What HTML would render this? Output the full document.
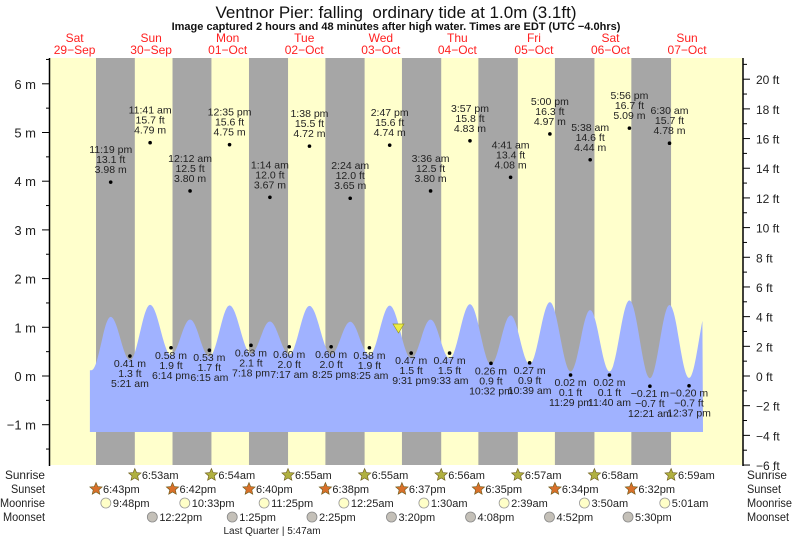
<!DOCTYPE html>
<html><head><meta charset="utf-8"><style>
body{margin:0;background:#fff;}
svg text{font-family:"Liberation Sans",sans-serif;}
</style></head><body>
<svg id="s" width="793" height="539" xmlns="http://www.w3.org/2000/svg"></svg>
<script>
const s=document.getElementById('s');
let h='';
const X=t=>36.3+3.19*t;
const Ym=m=>376-48.7*m;
const Yf=f=>376-14.84*f;
function T(x,y,str,o){o=o||{};h+=`<text x="${x}" y="${y}" font-size="${o.fs||11}" fill="${o.c||'#222'}" text-anchor="${o.a||'middle'}" ${o.b?'font-weight="bold"':''} ${o.tl?'textLength="'+o.tl+'" lengthAdjust="spacingAndGlyphs"':''}>${str}</text>`;}
h+=`<rect x="50" y="58" width="693" height="407" fill="#ffffcc"/>`;
const sunset=[18.72,18.7,18.67,18.63,18.62,18.58,18.57,18.53];
const sunrise=[6.883,6.9,6.917,6.917,6.933,6.95,6.967,6.983];
const hm=s=>{let [a,b]=s.split(':');return +a+ +b/60};
for(let d=0;d<8;d++){let x1=X(d*24+sunset[d]),x2=Math.min(743,X((d+1)*24+sunrise[d]));h+=`<rect x="${x1}" y="58" width="${x2-x1}" height="407" fill="#a6a6a6"/>`;}
const ex=[[23.32,3.98,1],[29.35,.41,0],[35.68,4.79,1],[42.23,.58,0],[48.2,3.80,1],[54.25,.53,0],[60.58,4.75,1],[67.3,.63,0],[73.23,3.67,1],[79.28,.60,0],[85.63,4.72,1],[92.42,.60,0],[98.4,3.65,1],[104.42,.58,0],[110.78,4.74,1],[117.52,.47,0],[123.6,3.80,1],[129.55,.47,0],[135.95,4.83,1],[142.53,.26,0],[148.68,4.08,1],[154.65,.27,0],[161.0,4.97,1],[167.48,.02,0],[173.63,4.44,1],[179.67,.02,0],[185.93,5.09,1],[192.35,-.21,0],[198.5,4.78,1],[204.62,-.20,0]];
const lab=[["11:19 pm","13.1 ft","3.98 m"],["0.41 m","1.3 ft","5:21 am"],["11:41 am","15.7 ft","4.79 m"],["0.58 m","1.9 ft","6:14 pm"],["12:12 am","12.5 ft","3.80 m"],["0.53 m","1.7 ft","6:15 am"],["12:35 pm","15.6 ft","4.75 m"],["0.63 m","2.1 ft","7:18 pm"],["1:14 am","12.0 ft","3.67 m"],["0.60 m","2.0 ft","7:17 am"],["1:38 pm","15.5 ft","4.72 m"],["0.60 m","2.0 ft","8:25 pm"],["2:24 am","12.0 ft","3.65 m"],["0.58 m","1.9 ft","8:25 am"],["2:47 pm","15.6 ft","4.74 m"],["0.47 m","1.5 ft","9:31 pm"],["3:36 am","12.5 ft","3.80 m"],["0.47 m","1.5 ft","9:33 am"],["3:57 pm","15.8 ft","4.83 m"],["0.26 m","0.9 ft","10:32 pm"],["4:41 am","13.4 ft","4.08 m"],["0.27 m","0.9 ft","10:39 am"],["5:00 pm","16.3 ft","4.97 m"],["0.02 m","0.1 ft","11:29 pm"],["5:38 am","14.6 ft","4.44 m"],["0.02 m","0.1 ft","11:40 am"],["5:56 pm","16.7 ft","5.09 m"],["\u22120.21 m","\u22120.7 ft","12:21 am"],["6:30 am","15.7 ft","4.78 m"],["\u22120.20 m","\u22120.7 ft","12:37 pm"]];
const cv=ex.map(e=>[e[0],e[2]?0.305*e[1]:0.6*e[1]+0.08]);
cv.unshift([17.3,0.12]);cv.push([210.8,1.5]);
let p=`M${X(16.8)},432 `;
for(let t=16.8;t<=209;t+=0.25){let i=0;while(cv[i+1][0]<t)i++;let a=cv[i],b=cv[i+1];let f=(t-a[0])/(b[0]-a[0]);f=Math.max(0,Math.min(1,f));let v=a[1]+(b[1]-a[1])*(1-Math.cos(Math.PI*f))/2;p+=`L${X(t).toFixed(1)},${Ym(v).toFixed(1)} `;}
p+=`L${X(209)},432 Z`;
h+=`<path d="${p}" fill="#a0b2ff"/>`;
ex.forEach((e,i)=>{let x=X(e[0]),y=Ym(e[1]);h+=`<circle cx="${x}" cy="${y}" r="1.8" fill="#000"/>`;let L=lab[i];
if(e[2]){T(x,y-29,L[0],{fs:10.5});T(x,y-19,L[1],{fs:10.5});T(x,y-9,L[2],{fs:10.5});}
else{T(x,y+11,L[0],{fs:10.5});T(x,y+21,L[1],{fs:10.5});T(x,y+31,L[2],{fs:10.5});}});
h+=`<polygon points="393,324 404,324 398.5,333" fill="#eeee44" stroke="#999922" stroke-width="0.7"/>`;
h+=`<line x1="49.5" y1="58" x2="49.5" y2="466" stroke="#000" stroke-width="1.5"/><line x1="743" y1="58" x2="743" y2="466" stroke="#000" stroke-width="1.5"/>`;
for(let m=-1.5;m<=6.5;m+=0.5){let y=Ym(m),maj=Number.isInteger(m);h+=`<line x1="${maj?42:46}" y1="${y}" x2="49" y2="${y}" stroke="#000"/>`;if(maj)T(36,y+5,(m<0?'\u2212':'')+Math.abs(m)+' m',{fs:13,a:'end'});}
for(let f=-6;f<=21;f++){let y=Yf(f),maj=f%2==0;h+=`<line x1="743" y1="${y}" x2="${maj?750:747}" y2="${y}" stroke="#000"/>`;if(maj)T(756,y+5,(f<0?'\u2212':'')+Math.abs(f)+' ft',{fs:12,a:'start'});}
T(396,18,"Ventnor Pier: falling&#160; ordinary tide at 1.0m (3.1ft)",{fs:17,c:'#111'});
T(396,30,"Image captured 2 hours and 48 minutes after high water. Times are EDT (UTC \u22124.0hrs)",{fs:11,b:1,c:'#111'});
const dn=["Sat","Sun","Mon","Tue","Wed","Thu","Fri","Sat","Sun"],dd=["29\u2212Sep","30\u2212Sep","01\u2212Oct","02\u2212Oct","03\u2212Oct","04\u2212Oct","05\u2212Oct","06\u2212Oct","07\u2212Oct"];
for(let d=0;d<9;d++){let x=X(d*24+12);T(x,42,dn[d],{fs:12,c:'#ff2020'});T(x,54,dd[d],{fs:12,c:'#ff2020'});}
const rows=[["Sunrise",479,40],["Sunset",493,34],["Moonrise",507,45],["Moonset",521,42]];
rows.forEach(r=>{T(45-r[2],r[1],r[0],{fs:11.5,a:'start',tl:r[2]});T(747,r[1],r[0],{fs:11.5,a:'start',tl:r[2]});});
function star(x,y,c){let pts=[];for(let k=0;k<10;k++){let r=k%2?3:6.5,a=-Math.PI/2+k*Math.PI/5;pts.push((x+r*Math.cos(a)).toFixed(1)+','+(y+r*Math.sin(a)).toFixed(1));}h+=`<polygon points="${pts.join(' ')}" fill="${c}" stroke="#6b5a1a" stroke-width="0.6"/>`;}
const sr=["6:53","6:54","6:55","6:55","6:56","6:57","6:58","6:59"],ss=["6:43","6:42","6:40","6:38","6:37","6:35","6:34","6:32"];
sr.forEach((t,i)=>{let x=X((i+1)*24+hm(t));star(x,475,'#b0b040');T(x+7,479,t+'am',{fs:11,a:'start'});});
ss.forEach((t,i)=>{let x=X(i*24+12+hm(t));star(x,489,'#d8702a');T(x+7,493,t+'pm',{fs:11,a:'start'});});
const mr=[[21.8,"9:48pm"],[46.55,"10:33pm"],[71.42,"11:25pm"],[96.42,"12:25am"],[121.5,"1:30am"],[146.65,"2:39am"],[171.83,"3:50am"],[197.02,"5:01am"]];
mr.forEach(m=>{let x=X(m[0]);h+=`<circle cx="${x}" cy="503" r="5" fill="#ffffc8" stroke="#999" stroke-width="0.8"/>`;T(x+7,507,m[1],{fs:11,a:'start'});});
const ms=[[36.37,"12:22pm"],[61.42,"1:25pm"],[86.42,"2:25pm"],[111.33,"3:20pm"],[136.13,"4:08pm"],[160.87,"4:52pm"],[185.5,"5:30pm"]];
ms.forEach(m=>{let x=X(m[0]);h+=`<circle cx="${x}" cy="517" r="5" fill="#c4c0b8" stroke="#888" stroke-width="0.8"/>`;T(x+7,521,m[1],{fs:11,a:'start'});});
T(272,534,"Last Quarter | 5:47am",{fs:10});
s.innerHTML=h;
</script>
</body></html>
